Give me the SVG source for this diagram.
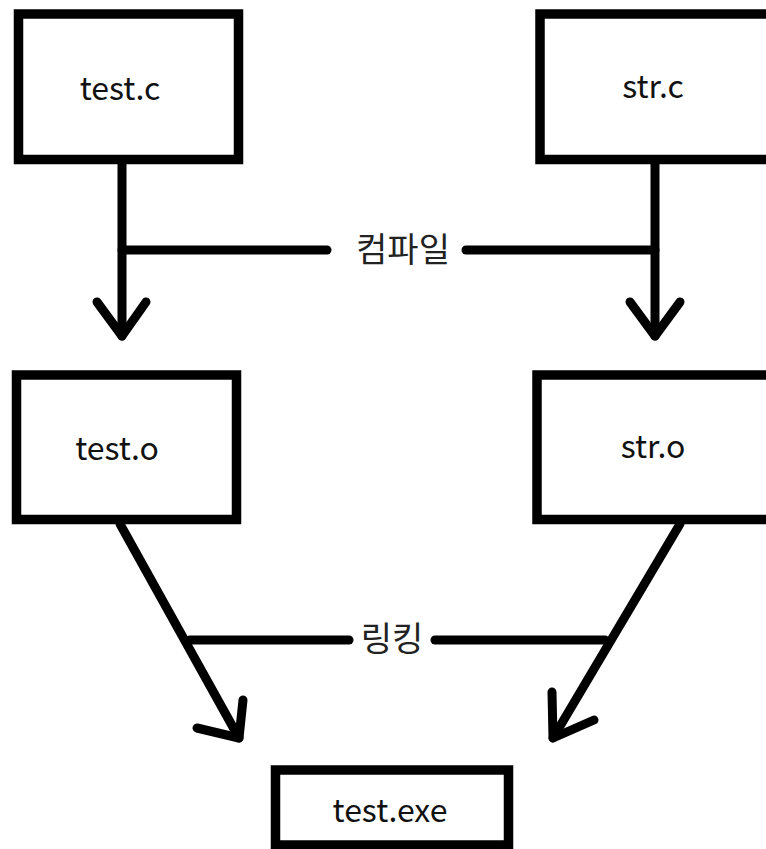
<svg xmlns="http://www.w3.org/2000/svg" width="766" height="849" viewBox="0 0 766 849">
<style>
.box{fill:#fff;stroke:#000;stroke-width:9.5}
.lbl{font-family:"Noto Sans CJK KR","Noto Sans",sans-serif;font-size:32px;fill:#111;text-anchor:middle}
.ko{font-family:"Noto Sans CJK KR",sans-serif;font-size:34px;fill:#222;text-anchor:middle}
.ln{fill:none;stroke:#000;stroke-width:9;stroke-linecap:round;stroke-linejoin:round}
</style>
<rect width="766" height="849" fill="#fff"/>
<g id="connectors">
<path class="ln" d="M122,164 V336"/>
<path class="ln" d="M97,302 L122,336 L146,302"/>
<path class="ln" d="M655,164 V336"/>
<path class="ln" d="M630,302 L655,336 L680,302"/>
<path class="ln" d="M122,250 H327"/>
<path class="ln" d="M466,250 H655"/>
<path class="ln" d="M120,524 L239,738"/>
<path class="ln" d="M197,728 L239,738 L243,700"/>
<path class="ln" d="M680,524 L553,738"/>
<path class="ln" d="M552,692 L553,738 L594,720"/>
<path class="ln" d="M190,640 H349"/>
<path class="ln" d="M435,640 H605"/>
<text class="ko" x="403" y="262">컴파일</text>
<text class="ko" x="392" y="651">링킹</text>
</g>
<g id="test_c">
<rect class="box" x="18.5" y="14" width="220" height="145.5"/>
<text class="lbl" x="120" y="100">test.c</text>
</g>
<g id="str_c">
<rect class="box" x="540" y="14" width="240" height="145.5"/>
<text class="lbl" x="653" y="98">str.c</text>
</g>
<g id="test_o">
<rect class="box" x="16.5" y="375" width="220" height="144.5"/>
<text class="lbl" x="117" y="460">test.o</text>
</g>
<g id="str_o">
<rect class="box" x="537" y="375" width="243" height="144.5"/>
<text class="lbl" x="653" y="458">str.o</text>
</g>
<g id="test_exe">
<rect class="box" x="275.5" y="770" width="233" height="75"/>
<text class="lbl" x="390" y="822">test.exe</text>
</g>
</svg>
